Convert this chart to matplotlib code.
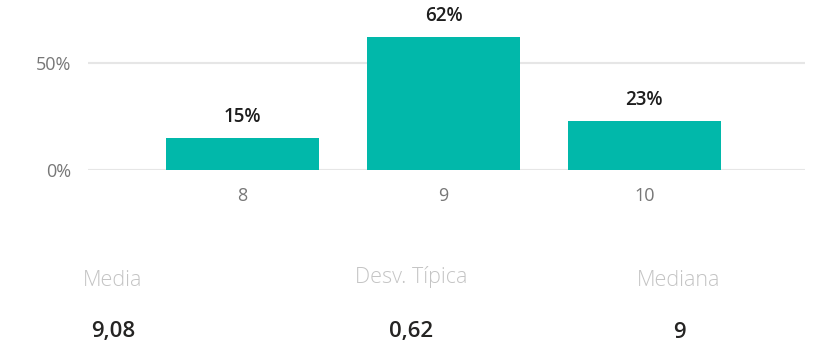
import matplotlib.pyplot as plt

# grade distribution
grades = ['8', '9', '10']
shares = [0.15, 0.62, 0.23]
y_ticks = [0, 0.5]
y_tick_labels = ['0%', '50%']

# summary figures under the chart
stat_names = ['Media', 'Desv. Típica', 'Mediana']
stat_values = ['9,08', '0,62', '9']

teal = '#01B8AA'
fonts = ['Open Sans', 'DejaVu Sans']

fig = plt.figure(figsize=(8.13, 3.49), dpi=100)
ax = fig.add_axes([88 / 813, 1 - 170 / 349, 717 / 813, 160 / 349])

x = list(range(len(grades)))
bars = ax.bar(x, shares, width=0.76, color=teal, zorder=3)

for b, v in zip(bars, shares):
    ax.annotate(f'{v:.0%}', (b.get_x() + b.get_width() / 2, v),
                xytext=(0, 15), textcoords='offset points',
                ha='center', va='center', fontsize=13.5, fontweight='semibold',
                color='#1E1E1E', family=fonts)

ax.set_xlim(-0.77, 2.80)
ax.set_ylim(0, 0.7477)
ax.set_xticks(x)
ax.set_xticklabels(grades, fontsize=13, color='#777777', family=fonts)
ax.set_yticks(y_ticks)
ax.set_yticklabels(y_tick_labels, fontsize=13, color='#777777', family=fonts)
ax.tick_params(length=0, pad=12)
ax.tick_params(axis='x', pad=12)
ax.grid(axis='y', color='#E6E6E6', linewidth=1.5, zorder=0)
for s in ax.spines.values():
    s.set_visible(False)

# summary row
stat_x = [113, 411, 679]
stat_y = [280, 277, 281]
val_y = [332, 331, 333]
for sx, sy, vy, name, val in zip(stat_x, stat_y, val_y, stat_names, stat_values):
    fig.text(sx / 813, 1 - sy / 349, name, ha='center', va='center',
             fontsize=15.5, color='#C4C4C4', family=fonts, fontweight='light')
    fig.text(sx / 813, 1 - vy / 349, val, ha='center', va='center',
             fontsize=16, color='#252423', family=fonts, fontweight='semibold')

fig.savefig('out.png', dpi=100)
